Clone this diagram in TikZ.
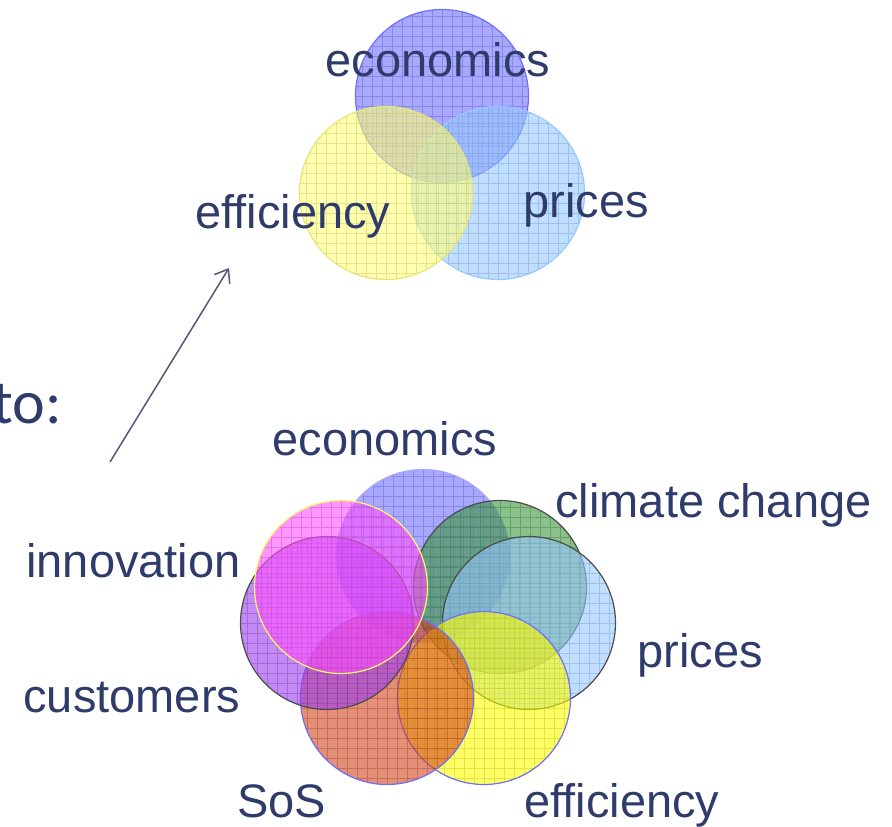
\documentclass[tikz,border=0pt]{standalone}
\usepackage{fontspec}
\setmainfont{Liberation Sans}
\newfontfamily\tofont{Carlito}
\usepackage{xcolor}
\usetikzlibrary{arrows.meta}

\definecolor{txtblue}{RGB}{47,60,107}
\definecolor{arrowgray}{RGB}{90,85,120}
\definecolor{ecoblue}{RGB}{110,110,255}
\definecolor{palecyan}{RGB}{150,200,255}
\definecolor{paleyellow}{RGB}{255,255,120}
\definecolor{pinkish}{RGB}{255,80,255}
\definecolor{violet}{RGB}{155,60,240}
\definecolor{leafgreen}{RGB}{60,150,60}
\definecolor{rust}{RGB}{210,70,30}
\definecolor{lemon}{RGB}{255,255,0}

\tikzset{
  blob/.style 2 args={circle, minimum size=86.5pt, inner sep=0pt, fill=#1, fill opacity=0.6,
    draw=#2, line width=0.6pt,
    path picture={\draw[#1!70!black, draw opacity=0.35, line width=0.4pt, step=5pt]
      (path picture bounding box.south west) grid (path picture bounding box.north east);}},
  lab/.style={font=\fontsize{23.5}{28}\selectfont, text=txtblue, anchor=base west, inner sep=0pt}
}

\begin{document}
\begin{tikzpicture}[x=0.5pt, y=-0.5pt]
    \useasboundingbox (0,0) rectangle (892,826);
    % small venn
    \node[blob={ecoblue}{ecoblue}] (topeco) at (442,96) {};
    \node[blob={palecyan}{palecyan}] (topprc) at (498,193) {};
    \node[blob={paleyellow}{paleyellow!80!gray}] (topeff) at (386,193) {};
    \node[lab] (teco) at (325,76) {economics};
    \node[lab] (teff) at (195,228) {efficiency};
    \node[lab] (tprc) at (523,217) {prices};
    % big venn
    \foreach \n/\x/\y/\fc/\bc in {eco/423/556/ecoblue/ecoblue!60!white,
                                 clim/500/587/leafgreen/black!70,
                                 prc/529/623/palecyan/black!70,
                                 eff/484/698/lemon/ecoblue,
                                 sos/387/698/rust/ecoblue,
                                 cust/327/623/violet/black!70,
                                 inno/341/587/pinkish/yellow!60}
        \node[blob={\fc}{\bc}] (\n) at (\x,\y) {};
    \node[lab] (leco) at (272,455) {economics};
    \node[lab] (lclim) at (555,517) {climate change};
    \node[lab] (linno) at (26,577) {innovation};
    \node[lab] (lprc) at (637,667) {prices};
    \node[lab] (lcust) at (23,712) {customers};
    \node[lab] (lsos) at (237,817) {SoS};
    \node[lab] (leff) at (524,817) {efficiency};
    \node[font=\tofont\fontsize{31}{36}\selectfont, text=txtblue, anchor=base east, inner sep=0pt] (to) at (62,423) {to:};
    \coordinate (from) at (110,462);
    \coordinate (tip) at (229,268);
    \draw[arrowgray, line width=0.75pt, -{Straight Barb[length=6pt,width=9pt]}] (from) -- (tip);
\end{tikzpicture}
\end{document}
